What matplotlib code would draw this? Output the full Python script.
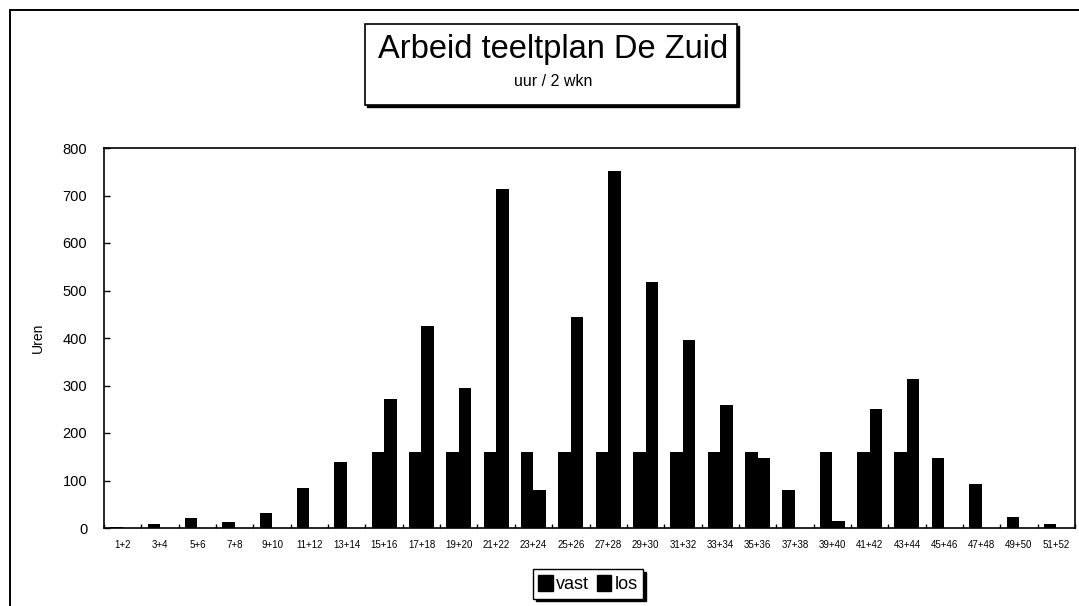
import numpy as np
from matplotlib import pyplot as plt
from matplotlib.patches import Rectangle, Patch

# categorieen: twee weken per balk
weken = ['1+2', '3+4', '5+6', '7+8', '9+10', '11+12', '13+14', '15+16', '17+18',
         '19+20', '21+22', '23+24', '25+26', '27+28', '29+30', '31+32', '33+34',
         '35+36', '37+38', '39+40', '41+42', '43+44', '45+46', '47+48', '49+50', '51+52']
# uren vaste en losse arbeid
vast = [2, 8, 21, 13, 32, 85, 138, 160, 160, 160, 160, 160, 160, 160, 160, 160, 160,
        160, 80, 160, 160, 160, 148, 93, 24, 8]
los = [0, 0, 0, 0, 0, 0, 0, 272, 426, 294, 714, 81, 445, 752, 517, 396, 259,
       148, 0, 15, 250, 314, 0, 0, 0, 0]

W, H = 1079, 606
plt.rcParams['font.family'] = ['Liberation Sans', 'DejaVu Sans']

fig = plt.figure(figsize=(W / 100, H / 100), dpi=100)
ax = fig.add_axes([104 / W, 1 - 528 / H, (1075 - 104) / W, (528 - 148) / H])

x = np.arange(len(weken))
w = 1 / 3
ax.bar(x - w / 2, vast, width=w, color='black', label='vast')
ax.bar(x + w / 2, los, width=w, color='black', label='los')

ax.set_xlim(-0.5, len(weken) - 0.5)
ax.set_ylim(0, 800)
ax.set_yticks(np.arange(0, 801, 100))
ax.set_xticks(x)
ax.set_xticklabels(weken, fontsize=7)
ax.set_xticks(np.arange(-0.5, len(weken), 1), minor=True)
ax.tick_params(axis='x', which='major', length=0, pad=9)
ax.tick_params(axis='x', which='minor', direction='in', length=3, width=1)
ax.tick_params(axis='y', direction='in', length=4, width=1, pad=12, labelsize=10.5)
for s in ax.spines.values():
    s.set_linewidth(1.2)
    s.set_color('black')
ax.set_ylabel('Uren', fontsize=10, labelpad=13)

# buitenrand
fig.add_artist(Rectangle((10 / W, -0.1), 1.2, 1 - 10 / H + 0.1, transform=fig.transFigure,
                         fill=False, edgecolor='black', linewidth=1.4))

# titelkader met schaduw
bx0, by0, bw, bh = 365 / W, 1 - 105 / H, 372 / W, 81 / H
fig.add_artist(Rectangle((bx0 + 2 / W, by0 - 2 / H), bw, bh, transform=fig.transFigure,
                         facecolor='black', edgecolor='black'))
fig.add_artist(Rectangle((bx0, by0), bw, bh, transform=fig.transFigure,
                         facecolor='white', edgecolor='black', linewidth=1.2))
fig.text(553 / W, 1 - 58 / H, 'Arbeid teeltplan De Zuid', ha='center', va='baseline', fontsize=23.5)
fig.text(553 / W, 1 - 86 / H, 'uur / 2 wkn', ha='center', va='baseline', fontsize=11.5)

handles = [Patch(facecolor='black', edgecolor='black', label='vast'),
           Patch(facecolor='black', edgecolor='black', label='los')]
fig.legend(handles=handles, loc='center', bbox_to_anchor=(588 / W, 1 - 584 / H), ncol=2,
           fontsize=13, frameon=True, fancybox=False, edgecolor='black',
           shadow={'color': 'black', 'alpha': 1}, handlelength=0.8, handleheight=1.0,
           handletextpad=0.2, columnspacing=0.4, borderpad=0.3, borderaxespad=0)

plt.savefig('out.png', dpi=100)
